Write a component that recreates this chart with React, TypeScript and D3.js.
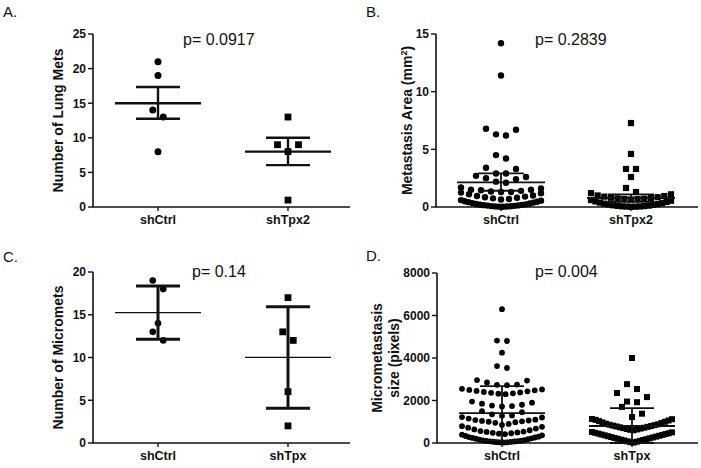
import React from 'react';
import * as d3 from 'd3';

// ---------- Panel A: Number of Lung Mets ----------
const catsA = ['shCtrl', 'shTpx2'];
const lungCtrl = [21, 19, 14, 13, 8];
const lungTpx2 = [13, 9, 9, 8, 1];
const lungMean = [15, 8];
const lungHi = [17.35, 10];
const lungLo = [12.75, 6.05];
const ticksA = [0, 5, 10, 15, 20, 25];

// ---------- Panel B: Metastasis Area (mm2) ----------
const catsB = ['shCtrl', 'shTpx2'];
const areaCtrl = [
  14.2, 11.4, 6.78, 6.7, 6.3, 6.2, 4.5, 4.2, 3.4, 3.3, 2.9, 2.9, 2.7, 2.6, 2.5, 2.4, 2.2, 2.1,
  1.7, 1.6, 1.5, 1.5, 1.45, 1.4, 1.35, 1.3, 1.3, 1.25, 1.2,
  1.1, 1.0, 0.95, 0.9, 0.85, 0.8, 0.75, 0.7, 0.65,
  0.6, 0.55, 0.5, 0.46, 0.42, 0.38, 0.34, 0.3, 0.26, 0.23, 0.2, 0.18, 0.16, 0.14, 0.12, 0.1, 0.08, 0.06, 0.05, 0.04, 0.03, 0.02,
];
const areaTpx2 = [
  7.28, 4.6, 3.3, 3.3, 2.6, 1.65, 1.3,
  1.2, 1.1, 1.0, 0.95, 0.9, 0.85, 0.8, 0.78, 0.75, 0.72, 0.7, 0.68, 0.65,
  0.6, 0.54, 0.48, 0.43, 0.38, 0.33, 0.29, 0.25, 0.21, 0.18, 0.15, 0.12, 0.1, 0.08, 0.06, 0.05, 0.04, 0.03, 0.02,
];
const areaMean = [2.14, 0.78];
const areaHi = [2.92, 1.1];
const areaLo = [1.41, 0.45];
const ticksB = [0, 5, 10, 15];

// ---------- Panel C: Number of Micromets ----------
const catsC = ['shCtrl', 'shTpx'];
const microCtrl = [19, 18, 14, 13, 12];
const microTpx = [17, 13, 12, 6, 2];
const microMean = [15.24, 10.02];
const microHi = [18.36, 15.94];
const microLo = [12.12, 4.06];
const ticksC = [0, 5, 10, 15, 20];

// ---------- Panel D: Micrometastasis size (pixels) ----------
const catsD = ['shCtrl', 'shTpx'];
const sizeCtrl = [
  6300, 4820, 4800, 4250, 3620, 3530,
  2960, 2940, 2850, 2750, 2740, 2720,
  2550, 2520, 2500, 2480, 2450, 2430, 2400, 2380, 2360, 2340, 2320, 2300,
  1950, 1900, 1850, 1800, 1760, 1740, 1720,
  1500, 1450, 1350, 1300, 1280,
  1220, 1200, 1150, 1100, 1080, 1060, 1040, 1020, 1000, 980, 950, 900, 850,
  790, 760, 720, 680, 640, 600, 560, 540, 520, 500, 480, 460, 440, 420,
  390, 360, 330, 300, 280, 260, 240, 220, 200, 180, 160, 140, 120, 110, 100, 90, 80, 70, 60, 50, 40, 30, 25, 20,
];
const sizeTpx = [
  4000, 2770, 2540, 2350, 2160, 1950, 1920, 1700, 1380, 1220,
  1130, 1120, 1090, 1060, 1030, 1000, 970, 940, 910, 880, 860, 840, 820, 800, 780, 760, 740, 720, 700, 680, 660, 640, 620, 600,
  520, 500, 480, 460, 440, 420, 400, 380, 360, 340, 320, 300, 280, 260, 240, 220, 200, 180, 160, 140, 120, 100, 80, 60, 40, 20,
];
const sizeMean = [1410, 800];
const sizeHi = [2680, 1640];
const sizeLo = [110, 0];
const ticksD = [0, 2000, 4000, 6000, 8000];

const FONT = '"Liberation Sans", Arial, Helvetica, sans-serif';

type Pt = { x: number; y: number };

// GraphPad-like scatter layout: points with similar values are grouped into a row and spread
function layoutPoints(values: number[], y: d3.ScaleLinear<number, number>, cx: number,
  threshPx: number, maxSp: number, maxW: number): Pt[] {
  const sorted = [...values].sort((a, b) => a - b);
  const groups: number[][] = [];
  let cur: number[] = [];
  let startPx = 0;
  for (const v of sorted) {
    const py = y(0) - y(v);
    if (cur.length === 0) { cur = [v]; startPx = py; }
    else if (py - startPx < threshPx) cur.push(v);
    else { groups.push(cur); cur = [v]; startPx = py; }
  }
  if (cur.length) groups.push(cur);
  const pts: Pt[] = [];
  for (const g of groups) {
    const n = g.length;
    const sp = n > 1 ? Math.min(maxSp, maxW / (n - 1)) : 0;
    g.forEach((v, i) => {
      let k: number;
      if (n % 2 === 1) k = i === 0 ? 0 : (i % 2 === 1 ? (i + 1) / 2 : -i / 2);
      else k = i % 2 === 0 ? i / 2 + 0.5 : -((i - 1) / 2 + 0.5);
      pts.push({ x: cx + k * sp, y: y(v) });
    });
  }
  return pts;
}

type SeriesCfg = { values: number[]; shape: 'circle' | 'square'; thresh: number };

type PanelProps = {
  x0: number; xEnd: number; yTop: number; yBot: number; yMax: number; ticks: number[];
  cats: string[]; series: SeriesCfg[]; mean: number[]; hi: number[]; lo: number[];
  title: React.ReactNode[]; titleX: number[];
  pText: string; pX: number; pY: number; letter: string; letterX: number; letterY: number;
  catY: number; r: number; sq: number; maxSp: number; maxW: number;
  meanHalf: number; capHalf: number; meanW: number; barW: number;
};

function Panel(p: PanelProps) {
  const y = d3.scaleLinear().domain([0, p.yMax]).range([p.yBot, p.yTop]);
  const x = d3.scalePoint<string>().domain(p.cats).range([p.x0, p.x0 + 260]).padding(0.5);
  const midY = (p.yTop + p.yBot) / 2;
  return (
    <g>
      <text x={p.letterX} y={p.letterY} fontSize={15} fontFamily={FONT} fill="#111">{p.letter}</text>
      <line x1={p.x0} x2={p.x0} y1={p.yTop} y2={p.yBot} stroke="#111" strokeWidth={1.6} />
      <line x1={p.x0 - 0.8} x2={p.xEnd} y1={p.yBot} y2={p.yBot} stroke="#111" strokeWidth={1.6} />
      {p.ticks.map((t) => (
        <g key={t}>
          <line x1={p.x0 - 5} x2={p.x0} y1={y(t)} y2={y(t)} stroke="#111" strokeWidth={1.4} />
          <text x={p.x0 - 7} y={y(t)} dy="0.36em" textAnchor="end" fontSize={12} fontWeight="bold" fontFamily={FONT} fill="#111">{t}</text>
        </g>
      ))}
      {p.cats.map((c) => (
        <g key={c}>
          <line x1={x(c)!} x2={x(c)!} y1={p.yBot} y2={p.yBot + 4} stroke="#111" strokeWidth={1.4} />
          <text x={x(c)!} y={p.catY} textAnchor="middle" fontSize={12.5} fontWeight="bold" fontFamily={FONT} fill="#111">{c}</text>
        </g>
      ))}
      {p.title.map((t, i) => (
        <text key={i} transform={`translate(${p.titleX[i]},${midY}) rotate(-90)`} textAnchor="middle" dy="0.36em"
          fontSize={14} fontWeight="bold" fontFamily={FONT} fill="#111">{t}</text>
      ))}
      <text x={p.pX} y={p.pY} fontSize={16} fontFamily={FONT} fill="#111">{p.pText}</text>
      {p.series.map((s, si) => {
        const pts = layoutPoints(s.values, y, x(p.cats[si])!, s.thresh, p.maxSp, p.maxW);
        return pts.map((pt, i) => s.shape === 'circle'
          ? <circle key={`${si}-${i}`} cx={pt.x} cy={pt.y} r={p.r} fill="#000" />
          : <rect key={`${si}-${i}`} x={pt.x - p.sq / 2} y={pt.y - p.sq / 2} width={p.sq} height={p.sq} fill="#000" />);
      })}
      {p.cats.map((c, i) => {
        const cx = x(c)!;
        return (
          <g key={c} stroke="#111">
            <line x1={cx - p.meanHalf} x2={cx + p.meanHalf} y1={y(p.mean[i])} y2={y(p.mean[i])} strokeWidth={p.meanW} />
            <line x1={cx} x2={cx} y1={y(p.hi[i])} y2={y(p.lo[i])} strokeWidth={p.barW} />
            <line x1={cx - p.capHalf} x2={cx + p.capHalf} y1={y(p.hi[i])} y2={y(p.hi[i])} strokeWidth={p.barW} />
            <line x1={cx - p.capHalf} x2={cx + p.capHalf} y1={y(p.lo[i])} y2={y(p.lo[i])} strokeWidth={p.barW} />
          </g>
        );
      })}
    </g>
  );
}

export default function App() {
  return (
    <svg width={701} height={468} style={{ position: 'absolute', left: 0, top: 0, background: '#fff' }}>
      <rect width={701} height={468} fill="#fff" />
      <Panel x0={93} xEnd={350} yTop={34} yBot={207} yMax={25} ticks={ticksA} cats={catsA}
        series={[{ values: lungCtrl, shape: 'circle', thresh: 10 }, { values: lungTpx2, shape: 'square', thresh: 10 }]}
        mean={lungMean} hi={lungHi} lo={lungLo}
        title={['Number of Lung Mets']} titleX={[58]}
        pText="p= 0.0917" pX={183} pY={45} letter="A." letterX={3} letterY={17} catY={224}
        r={3.5} sq={6.8} maxSp={10.5} maxW={80} meanHalf={43} capHalf={22} meanW={2.4} barW={2.4} />
      <Panel x0={436} xEnd={698} yTop={34} yBot={207} yMax={15} ticks={ticksB} cats={catsB}
        series={[{ values: areaCtrl, shape: 'circle', thresh: 7 }, { values: areaTpx2, shape: 'square', thresh: 7 }]}
        mean={areaMean} hi={areaHi} lo={areaLo}
        title={[<>Metastasis Area (mm<tspan baselineShift="super" fontSize={9}>2</tspan>)</>]} titleX={[407]}
        pText="p= 0.2839" pX={535} pY={45} letter="B." letterX={366} letterY={17} catY={224}
        r={3.2} sq={6.2} maxSp={10} maxW={80} meanHalf={44} capHalf={23} meanW={1.8} barW={1.8} />
      <Panel x0={93} xEnd={350} yTop={272} yBot={443} yMax={20} ticks={ticksC} cats={catsC}
        series={[{ values: microCtrl, shape: 'circle', thresh: 10 }, { values: microTpx, shape: 'square', thresh: 10 }]}
        mean={microMean} hi={microHi} lo={microLo}
        title={['Number of Micromets']} titleX={[58]}
        pText="p= 0.14" pX={192} pY={277} letter="C." letterX={3} letterY={262} catY={460}
        r={3.3} sq={6.8} maxSp={10.5} maxW={80} meanHalf={43} capHalf={22} meanW={1.3} barW={3} />
      <Panel x0={437} xEnd={698} yTop={273} yBot={443} yMax={8000} ticks={ticksD} cats={catsD}
        series={[{ values: sizeCtrl, shape: 'circle', thresh: 8 }, { values: sizeTpx, shape: 'square', thresh: 12 }]}
        mean={sizeMean} hi={sizeHi} lo={sizeLo}
        title={['Micrometastasis', 'size (pixels)']} titleX={[377, 394]}
        pText="p= 0.004" pX={535} pY={277} letter="D." letterX={366} letterY={261} catY={460}
        r={2.9} sq={6} maxSp={10} maxW={80} meanHalf={43} capHalf={22} meanW={1.8} barW={1.8} />
    </svg>
  );
}
